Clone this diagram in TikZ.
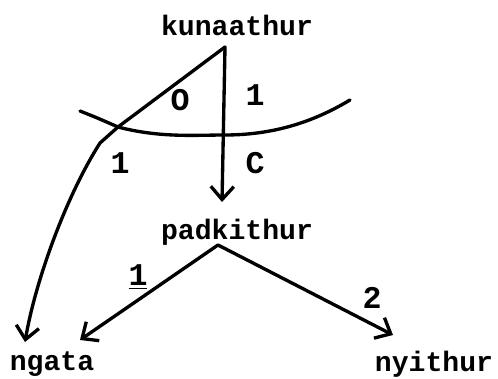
\documentclass[tikz,border=0pt]{standalone}
\usepackage{fontspec}
\setmonofont{Liberation Mono}
\usepackage{tikz}
\usetikzlibrary{arrows.meta}
\newcommand{\FW}{\ttfamily\bfseries\fontsize{16}{19}\selectfont}
\newcommand{\FE}{\ttfamily\bfseries\fontsize{18}{21}\selectfont}

\begin{document}
\begin{tikzpicture}
\tikzstyle{texto}=[draw=none,fill=none,black,font=\FW,inner sep=0pt]
\tikzstyle{etiq}=[texto,font=\FE]
\tikzstyle{line}=[black,line width=1.9pt,line cap=round,line join=round]
\tikzstyle{flecha}=[line,-{Straight Barb[length=2.6mm,width=4.6mm,line width=1.9pt]}]

\useasboundingbox (0,0) rectangle (9.96,7.56);

\node[texto] (kun) at (4.74,7.06) {kunaathur};
\node[texto] (pad) at (4.74,2.92) {padkithur};
\node[texto] (nga) at (1.04,0.28) {ngata};
\node[texto] (nyi) at (8.68,0.28) {nyithur};

\coordinate (top)   at (4.50,6.62);
\coordinate (cross) at (2.36,5.02);
\coordinate (padin) at (4.44,3.52);
\coordinate (split) at (4.36,2.66);
\coordinate (ngain) at (0.50,0.72);
\coordinate (ngbr)  at (1.60,0.76);
\coordinate (nyin)  at (7.86,0.86);

% isogloss
\draw[line] (1.60,5.34) .. controls (1.95,5.20) .. (cross)
  .. controls (3.20,4.80) and (3.90,4.86) .. (4.50,4.86)
  .. controls (5.60,4.86) and (6.40,5.20) .. (7.00,5.56);

\draw[flecha] (top) -- (padin);
\draw[flecha] (top) -- (cross) -- (2.00,4.70)
  .. controls (1.30,3.60) and (0.70,1.90) .. (ngain);
\draw[flecha] (split) -- (ngbr);
\draw[flecha] (split) -- (nyin);

\node[etiq] (o)  at (3.60,5.56) {O};
\node[etiq] (r1) at (5.10,5.66) {1};
\node[etiq] (l1) at (2.40,4.30) {1};
\node[etiq] (c)  at (5.10,4.30) {C};
\node[etiq] (u1) at (2.76,2.02) {\underline{1}};
\node[etiq] (n2) at (7.44,1.60) {2};
\end{tikzpicture}
\end{document}
